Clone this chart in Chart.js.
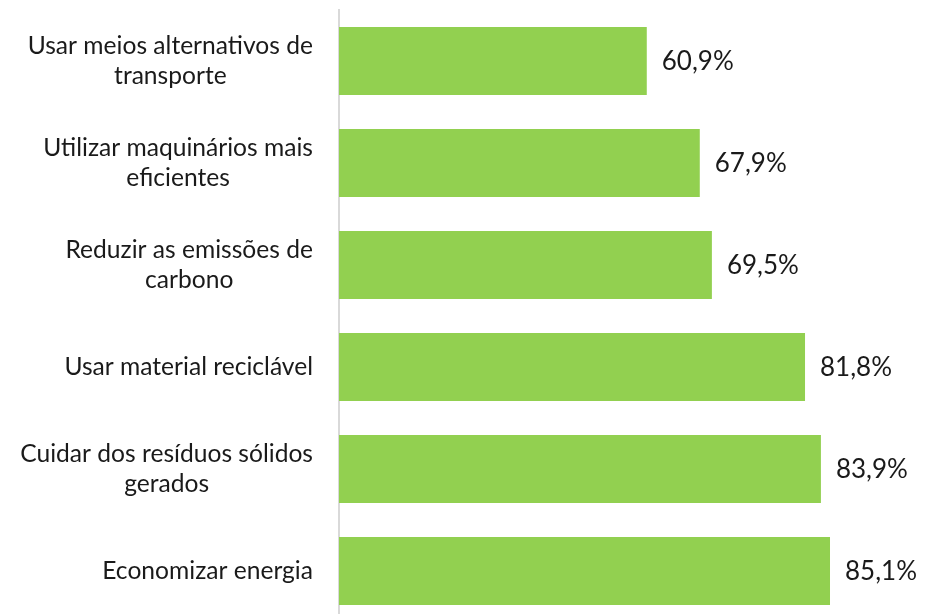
<!DOCTYPE html>
<html>
<head>
<meta charset="utf-8">
<script src="https://cdn.jsdelivr.net/npm/chart.js@4.4.1/dist/chart.umd.min.js"></script>
<style>
  html, body { margin: 0; padding: 0; background: #fff; overflow: hidden; }
  #wrap { position: relative; width: 925px; height: 622px; }
</style>
</head>
<body>
<div id="wrap"><canvas id="c"></canvas></div>
<script>
const categories = [
  ["Usar meios alternativos de", "transporte"],
  ["Utilizar maquinários mais", "eficientes"],
  ["Reduzir as emissões de", "carbono"],
  ["Usar material reciclável"],
  ["Cuidar dos resíduos sólidos", "gerados"],
  ["Economizar energia"]
];
const values = [60.9, 67.9, 69.5, 81.8, 83.9, 85.1];

const FONT = "Lato, 'Open Sans', sans-serif";

const customLabels = {
  id: 'customLabels',
  afterDatasetsDraw(chart) {
    const ctx = chart.ctx;
    const meta = chart.getDatasetMeta(0);
    ctx.save();
    ctx.fillStyle = "#1a1a1a";
    ctx.textBaseline = "middle";
    // value labels
    ctx.font = "26px " + FONT;
    ctx.textAlign = "left";
    meta.data.forEach((bar, i) => {
      const txt = values[i].toFixed(1).replace('.', ',') + '%';
      ctx.fillText(txt, bar.x + 15, bar.y + 1);
    });
    // category labels: block right-aligned, lines centered within block
    ctx.font = "24.6px " + FONT;
    ctx.textAlign = "center";
    const right = chart.chartArea.left - 26;
    const lh = 30;
    meta.data.forEach((bar, i) => {
      const lines = categories[i];
      const w = Math.max(...lines.map(l => ctx.measureText(l).width));
      const cx = right - w / 2;
      const y0 = bar.y - (lines.length - 1) * lh / 2;
      lines.forEach((l, j) => ctx.fillText(l, cx, y0 + j * lh));
    });
    ctx.restore();
  }
};

new Chart(document.getElementById('c'), {
  type: 'bar',
  data: {
    labels: categories,
    datasets: [{
      data: values,
      backgroundColor: '#92D050',
      borderWidth: 0,
      categoryPercentage: 1.0,
      barPercentage: 0.667
    }]
  },
  options: {
    indexAxis: 'y',
    responsive: true,
    maintainAspectRatio: false,
    animation: false,
    layout: { padding: { top: 10, right: 56, bottom: 0, left: 0 } },
    plugins: { legend: { display: false }, tooltip: { enabled: false } },
    scales: {
      x: {
        display: false,
        min: 20.25,
        max: 90.25
      },
      y: {
        afterFit(scale) { scale.width = 339; },
        grid: { display: false, drawTicks: false },
        border: { display: true, color: '#d9d9d9', width: 2 },
        ticks: { display: false }
      }
    }
  },
  plugins: [customLabels]
});
</script>
</body>
</html>
